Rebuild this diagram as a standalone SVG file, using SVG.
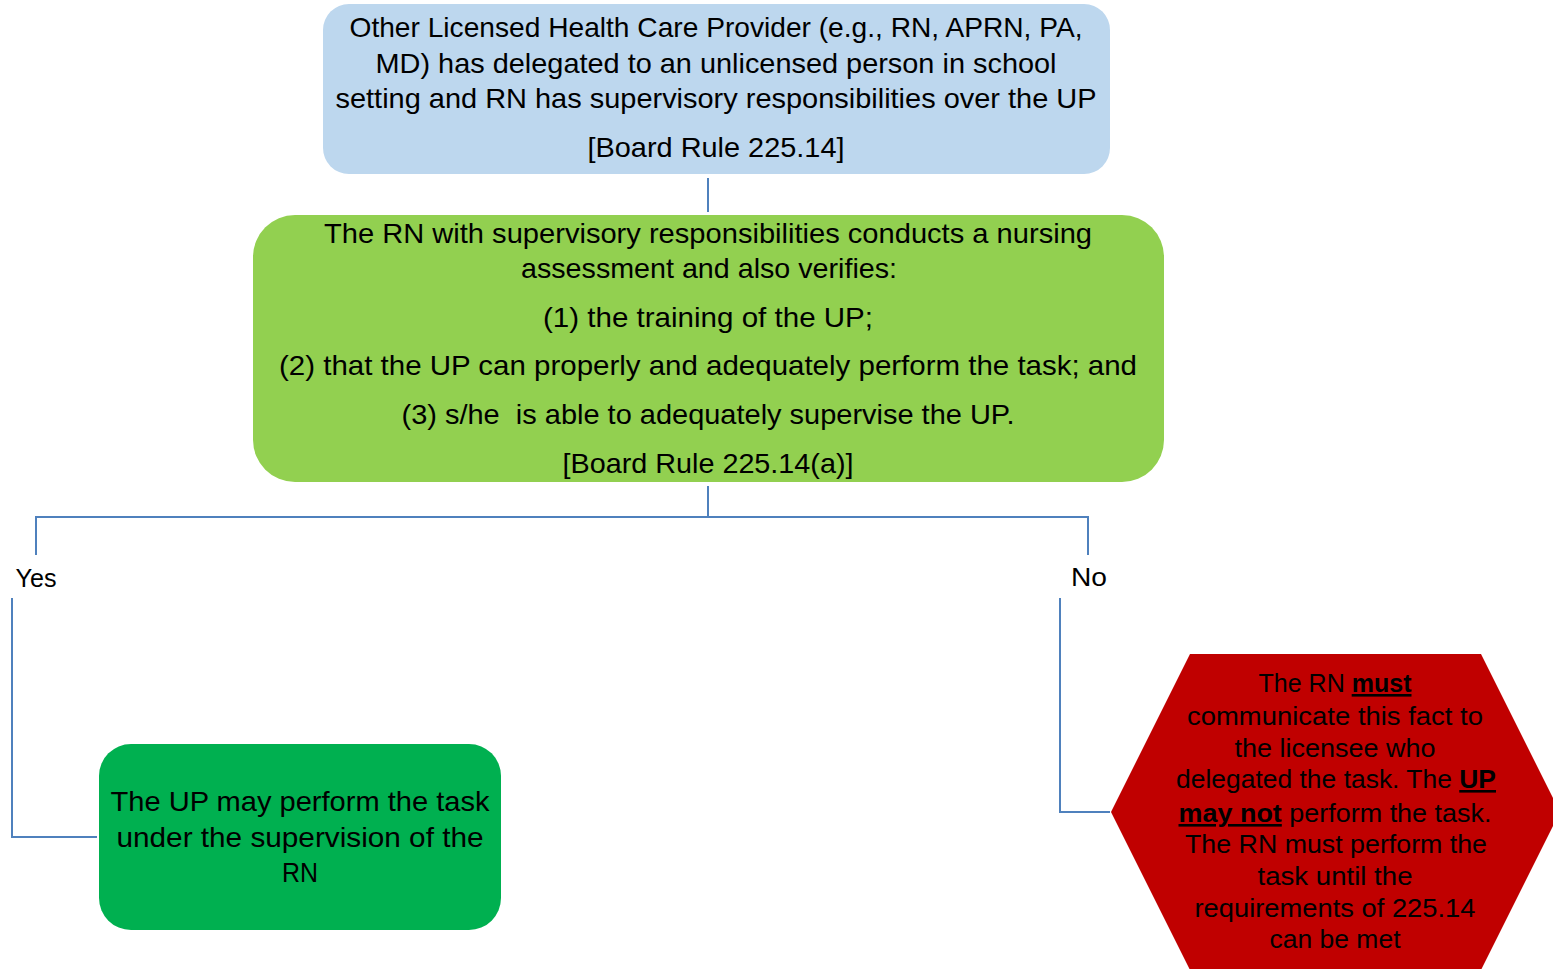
<svg xmlns="http://www.w3.org/2000/svg" width="1553" height="969" viewBox="0 0 1553 969">
<style>
text{font-family:"Liberation Sans",Arial,sans-serif;fill:#000;text-anchor:middle}
.t28{font-size:28px}
.t26{font-size:26px}
.b{font-weight:bold;text-decoration:underline}
.conn{fill:none;stroke:#4F81BD;stroke-width:2}
</style>
<rect width="1553" height="969" fill="#fff"/>
<g id="connectors">
<path class="conn" d="M708,178 V212"/>
<path class="conn" d="M708,486 V517"/>
<path class="conn" d="M36,555 V517 H1088 V555" stroke-width="3"/>
<path class="conn" d="M12,598 V837 H97"/>
<path class="conn" d="M1060,598 V812 H1110"/>
<text class="t26" x="36" y="587" textLength="41" lengthAdjust="spacingAndGlyphs">Yes</text>
<text class="t26" x="1089" y="586" textLength="36" lengthAdjust="spacingAndGlyphs">No</text>
</g>
<g id="node-top">
<rect x="323" y="4" width="787" height="170" rx="26" fill="#BDD7EE"/>
<text class="t28" x="716" y="37" textLength="733" lengthAdjust="spacingAndGlyphs">Other Licensed Health Care Provider (e.g., RN, APRN, PA,</text>
<text class="t28" x="716" y="73" textLength="681" lengthAdjust="spacingAndGlyphs">MD) has delegated to an unlicensed person in school</text>
<text class="t28" x="716" y="108" textLength="761" lengthAdjust="spacingAndGlyphs">setting and RN has supervisory responsibilities over the UP</text>
<text class="t28" x="716" y="157" textLength="257" lengthAdjust="spacingAndGlyphs">[Board Rule 225.14]</text>
</g>
<g id="node-assess">
<rect x="253" y="215" width="911" height="267" rx="42" fill="#92D050"/>
<text class="t28" x="708" y="243" textLength="768" lengthAdjust="spacingAndGlyphs">The RN with supervisory responsibilities conducts a nursing</text>
<text class="t28" x="709" y="278" textLength="376" lengthAdjust="spacingAndGlyphs">assessment and also verifies:</text>
<text class="t28" x="708" y="327" textLength="330" lengthAdjust="spacingAndGlyphs">(1) the training of the UP;</text>
<text class="t28" x="708" y="375" textLength="858" lengthAdjust="spacingAndGlyphs">(2) that the UP can properly and adequately perform the task; and</text>
<text class="t28" x="708" y="424" textLength="613" lengthAdjust="spacingAndGlyphs" xml:space="preserve">(3) s/he  is able to adequately supervise the UP.</text>
<text class="t28" x="708" y="473" textLength="291" lengthAdjust="spacingAndGlyphs">[Board Rule 225.14(a)]</text>
</g>
<g id="node-yes">
<rect x="99" y="744" width="402" height="186" rx="32" fill="#00B050"/>
<text class="t28" x="300" y="811" textLength="379" lengthAdjust="spacingAndGlyphs">The UP may perform the task</text>
<text class="t28" x="300" y="847" textLength="367" lengthAdjust="spacingAndGlyphs">under the supervision of the</text>
<text class="t28" x="300" y="882" textLength="36" lengthAdjust="spacingAndGlyphs">RN</text>
</g>
<g id="node-no">
<polygon points="1111,812 1190,654 1481,654 1560,812 1481,970 1190,970" fill="#C00000"/>
<text class="t26" x="1335" y="692" textLength="153" lengthAdjust="spacingAndGlyphs">The RN <tspan class="b">must</tspan></text>
<text class="t26" x="1335" y="725" textLength="296" lengthAdjust="spacingAndGlyphs">communicate this fact to</text>
<text class="t26" x="1335" y="757" textLength="201" lengthAdjust="spacingAndGlyphs">the licensee who</text>
<text class="t26" x="1336" y="788" textLength="320" lengthAdjust="spacingAndGlyphs">delegated the task. The <tspan class="b">UP</tspan></text>
<text class="t26" x="1335" y="822" textLength="313" lengthAdjust="spacingAndGlyphs"><tspan class="b">may not</tspan> perform the task.</text>
<text class="t26" x="1336" y="853" textLength="302" lengthAdjust="spacingAndGlyphs">The RN must perform the</text>
<text class="t26" x="1335" y="885" textLength="155" lengthAdjust="spacingAndGlyphs">task until the</text>
<text class="t26" x="1335" y="917" textLength="281" lengthAdjust="spacingAndGlyphs">requirements of 225.14</text>
<text class="t26" x="1335" y="948" textLength="131" lengthAdjust="spacingAndGlyphs">can be met</text>
</g>
</svg>
